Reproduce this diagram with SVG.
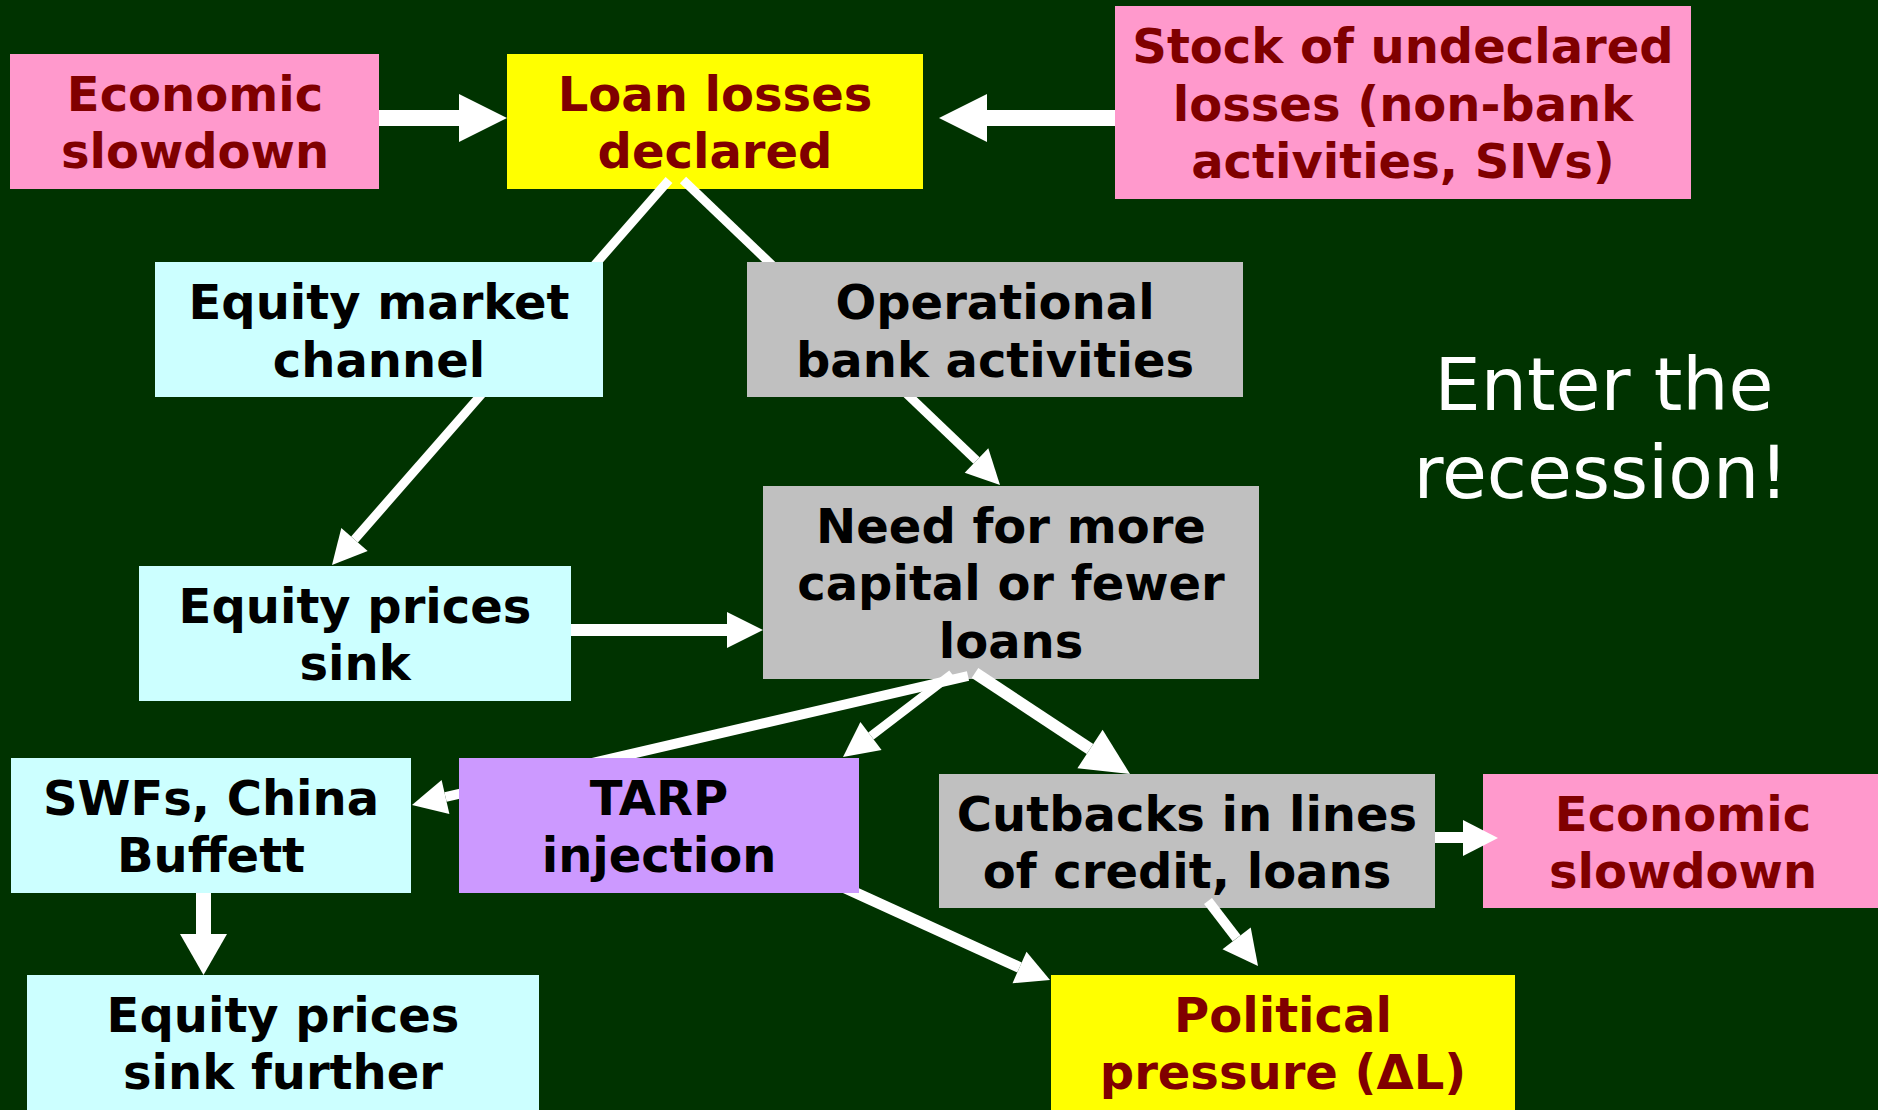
<svg xmlns="http://www.w3.org/2000/svg" width="1878" height="1110" viewBox="0 0 1878 1110">
<style>
.t{font-family:"DejaVu Sans",Verdana,sans-serif;font-weight:bold;font-size:48px;text-anchor:middle}
.red{fill:#800000}
.blk{fill:#000000}
.pink{fill:#FF99CC}
.yel{fill:#FFFF00}
.cyan{fill:#CCFFFF}
.grey{fill:#C0C0C0}
.purp{fill:#CC99FF}
.ln{stroke:#FFFFFF;fill:none;stroke-linecap:butt}
.hd{fill:#FFFFFF}
.w9{stroke-width:9}
.w10{stroke-width:10}
.w11{stroke-width:11}
.w12{stroke-width:12}
.w15{stroke-width:15}
.w16{stroke-width:16}
.big{font-family:"DejaVu Sans",Verdana,sans-serif;font-size:73px;fill:#FFFFFF;text-anchor:middle}
</style>
<rect x="0" y="0" width="1878" height="1110" fill="#003300"/>

<g id="econ1"><rect class="pink" x="10" y="54" width="369" height="135"/>
<text class="t red" x="195" y="111">Economic</text><text class="t red" x="195" y="168">slowdown</text></g>

<g id="loan"><rect class="yel" x="507" y="54" width="416" height="135"/>
<text class="t red" x="715" y="111">Loan losses</text><text class="t red" x="715" y="168">declared</text></g>

<g id="stock"><rect class="pink" x="1115" y="6" width="576" height="193"/>
<text class="t red" x="1403" y="63">Stock of undeclared</text><text class="t red" x="1403" y="120.5">losses (non-bank</text><text class="t red" x="1403" y="178">activities, SIVs)</text></g>

<g id="eqsink"><rect class="cyan" x="139" y="566" width="432" height="135"/>
<text class="t blk" x="355" y="623">Equity prices</text><text class="t blk" x="355" y="680">sink</text></g>

<g id="need"><rect class="grey" x="763" y="486" width="496" height="193"/>
<text class="t blk" x="1011" y="542.5">Need for more</text><text class="t blk" x="1011" y="600">capital or fewer</text><text class="t blk" x="1011" y="657.5">loans</text></g>

<g id="swfs"><rect class="cyan" x="11" y="758" width="400" height="135"/>
<text class="t blk" x="211" y="815">SWFs, China</text><text class="t blk" x="211" y="872">Buffett</text></g>

<g id="further"><rect class="cyan" x="27" y="975" width="512" height="140"/>
<text class="t blk" x="283" y="1032">Equity prices</text><text class="t blk" x="283" y="1089">sink further</text></g>

<g id="cutbacks"><rect class="grey" x="939" y="774" width="496" height="134"/>
<text class="t blk" x="1187" y="830.5">Cutbacks in lines</text><text class="t blk" x="1187" y="887.5">of credit, loans</text></g>

<g id="econ2"><rect class="pink" x="1483" y="774" width="400" height="134"/>
<text class="t red" x="1683" y="830.5">Economic</text><text class="t red" x="1683" y="887.5">slowdown</text></g>

<g id="political"><rect class="yel" x="1051" y="975" width="464" height="140"/>
<text class="t red" x="1283" y="1032">Political</text><text class="t red" x="1283" y="1089">pressure (ΔL)</text></g>

<g id="connectors">
<path class="ln w16" d="M379,118 L459,118"/><polygon class="hd" points="459,94 507,118 459,142"/>
<path class="ln w16" d="M1115,118 L987,118"/><polygon class="hd" points="987,94 939,118 987,142"/>
<path class="ln w9" d="M669,180 L354.5,539.5"/><polygon class="hd" points="332,565 341.3,528 367.7,551"/>
<path class="ln w9" d="M683,180 L976.5,460.5"/><polygon class="hd" points="1000,485 988.3,448.2 964.7,472.8"/>
<path class="ln w12" d="M571,630 L727,630"/><polygon class="hd" points="727,612 763,630 727,648"/>
<path class="ln w10" d="M968,676 L445.5,797"/><polygon class="hd" points="412,805 441.6,780.1 449.4,813.9"/>
<path class="ln w9" d="M952,674 L871,736"/><polygon class="hd" points="843,757 860.4,722.1 881.6,749.9"/>
<path class="ln w12" d="M975,673 L1090,749"/><polygon class="hd" points="1130,774 1102.6,729.7 1077.4,768.3"/>
<path class="ln w11" d="M843,887 L1019.5,967.5"/><polygon class="hd" points="1050,980 1026.5,951.8 1012.5,983.2"/>
<path class="ln w10" d="M1208,901 L1236.6,938.3"/><polygon class="hd" points="1258,966 1250.7,927.4 1222.5,949.2"/>
<path class="ln w11" d="M1435,837.5 L1463,837.5"/><polygon class="hd" points="1463,820 1498,838 1463,856"/>
<path class="ln w15" d="M203.5,893 L203.5,934"/><polygon class="hd" points="180,934 203.5,975 227,934"/>
</g>

<g id="eqmarket"><rect class="cyan" x="155" y="262" width="448" height="135"/>
<text class="t blk" x="379" y="319">Equity market</text><text class="t blk" x="379" y="376.5">channel</text></g>

<g id="operational"><rect class="grey" x="747" y="262" width="496" height="135"/>
<text class="t blk" x="995" y="319">Operational</text><text class="t blk" x="995" y="376.5">bank activities</text></g>

<g id="tarp"><rect class="purp" x="459" y="758" width="400" height="135"/>
<text class="t blk" x="659" y="815">TARP</text><text class="t blk" x="659" y="872">injection</text></g>

<g id="recession"><text class="big" x="1604" y="410">Enter the</text><text class="big" x="1601" y="498">recession!</text></g>
</svg>
